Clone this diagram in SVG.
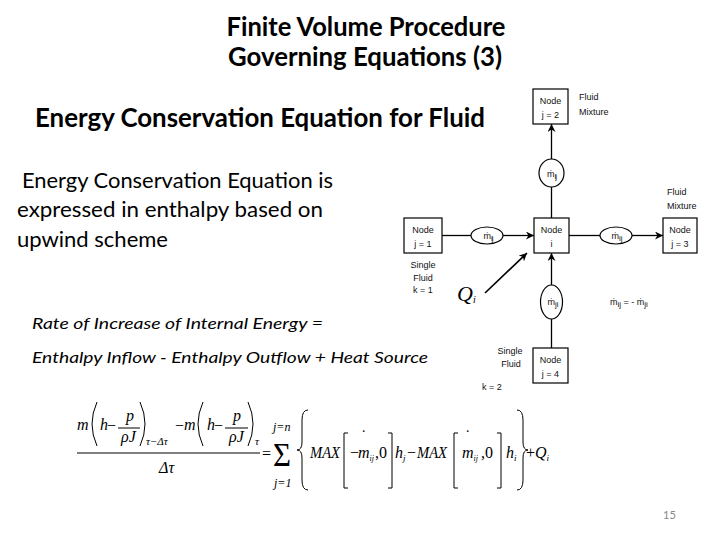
<svg xmlns="http://www.w3.org/2000/svg" width="720" height="540" viewBox="0 0 720 540">
<style>
.t{font-family:Lato,"Liberation Sans",sans-serif;fill:#000}
.b{font-weight:bold}
.it{font-style:italic}
.n{font-family:"Liberation Sans",Arial,sans-serif;font-size:9px;fill:#111;text-anchor:middle}
.s{text-anchor:start}
.box{fill:#fff;stroke:#000;stroke-width:1.2}
.ell{fill:#fff;stroke:#000;stroke-width:1.2}
.ln{stroke:#000;stroke-width:1.3;fill:none}
.m{font-family:"Liberation Serif","Times New Roman",serif;font-style:italic;font-size:16px;fill:#000}
.mu{font-family:"Liberation Serif","Times New Roman",serif;font-size:16px;fill:#000}
.dl{fill:none;stroke:#000;stroke-width:1}
</style>
<defs>
<marker id="ah" viewBox="0 0 10 10" refX="10" refY="5" markerWidth="8" markerHeight="8" markerUnits="userSpaceOnUse" orient="auto">
<path d="M0,0 L10,5 L0,10 L3,5 z" fill="#000"/>
</marker>
</defs>
<rect width="720" height="540" fill="#fff"/>

<g id="title">
<text class="t b" x="366" y="36" font-size="27" text-anchor="middle" textLength="279" lengthAdjust="spacingAndGlyphs">Finite Volume Procedure</text>
<text class="t b" x="365" y="66" font-size="27" text-anchor="middle" textLength="274" lengthAdjust="spacingAndGlyphs">Governing Equations (3)</text>
</g>
<g id="heading">
<text class="t b" x="35" y="127" font-size="27" textLength="450" lengthAdjust="spacingAndGlyphs">Energy Conservation Equation for Fluid</text>
</g>
<g id="body">
<text class="t" x="22" y="188" font-size="21" textLength="311" lengthAdjust="spacingAndGlyphs">Energy Conservation Equation is</text>
<text class="t" x="17" y="217" font-size="21" textLength="306" lengthAdjust="spacingAndGlyphs">expressed in enthalpy based on</text>
<text class="t" x="17" y="247" font-size="21" textLength="151" lengthAdjust="spacingAndGlyphs">upwind scheme</text>
<text class="t it" x="32" y="329" font-size="16" textLength="291" lengthAdjust="spacingAndGlyphs">Rate of Increase of Internal Energy =</text>
<text class="t it" x="32" y="363" font-size="16" textLength="396" lengthAdjust="spacingAndGlyphs">Enthalpy Inflow - Enthalpy Outflow + Heat Source</text>
</g>

<g id="connectors">
<line class="ln" x1="442" y1="235.5" x2="471" y2="235.5"/>
<line class="ln" x1="503" y1="235.5" x2="534" y2="235.5" marker-end="url(#ah)"/>
<line class="ln" x1="569" y1="235.5" x2="600" y2="235.5"/>
<line class="ln" x1="632" y1="235.5" x2="663" y2="235.5" marker-end="url(#ah)"/>
<line class="ln" x1="551.5" y1="218" x2="551.5" y2="187"/>
<line class="ln" x1="551.5" y1="159" x2="551.5" y2="124" marker-end="url(#ah)"/>
<line class="ln" x1="551.5" y1="348" x2="551.5" y2="319"/>
<line class="ln" x1="551.5" y1="285" x2="551.5" y2="253" marker-end="url(#ah)"/>
<line class="ln" x1="485" y1="293" x2="527" y2="253" marker-end="url(#ah)" style="stroke-width:1.7"/>
</g>

<g id="node-j1">
<rect class="box" x="404" y="218" width="38" height="35"/>
<text class="n" x="423" y="233">Node</text>
<text class="n" x="423" y="247">j = 1</text>
<text class="n" x="423" y="268">Single</text>
<text class="n" x="423" y="281">Fluid</text>
<text class="n" x="423" y="293">k = 1</text>
</g>
<g id="node-i">
<rect class="box" x="534" y="218" width="35" height="35"/>
<text class="n" x="551.5" y="233">Node</text>
<text class="n" x="551.5" y="247">i</text>
</g>
<g id="node-j2">
<rect class="box" x="533" y="89" width="35" height="35"/>
<text class="n" x="550.5" y="104">Node</text>
<text class="n" x="550.5" y="118">j = 2</text>
<text class="n s" x="579" y="100">Fluid</text>
<text class="n s" x="579" y="115">Mixture</text>
</g>
<g id="node-j3">
<rect class="box" x="663" y="218" width="34" height="35"/>
<text class="n" x="680" y="233">Node</text>
<text class="n" x="680" y="247">j = 3</text>
<text class="n s" x="667" y="195">Fluid</text>
<text class="n s" x="667" y="209">Mixture</text>
</g>
<g id="node-j4">
<rect class="box" x="533" y="348" width="35" height="35"/>
<text class="n" x="550.5" y="363">Node</text>
<text class="n" x="550.5" y="377">j = 4</text>
<text class="n" x="510" y="354">Single</text>
<text class="n" x="511" y="367">Fluid</text>
<text class="n" x="492" y="390">k = 2</text>
</g>

<g id="flow-top">
<ellipse class="ell" cx="551.5" cy="173" rx="12.5" ry="14"/>
<text class="n" x="551.5" y="177">ṁ<tspan font-size="8" dy="2" letter-spacing="-1">ij</tspan></text>
</g>
<g id="flow-left">
<ellipse class="ell" cx="487" cy="235.5" rx="16" ry="8.5"/>
<text class="n" x="488" y="239">ṁ<tspan font-size="8" dy="2" letter-spacing="-1">ij</tspan></text>
</g>
<g id="flow-right">
<ellipse class="ell" cx="616" cy="235.5" rx="16" ry="8.5"/>
<text class="n" x="617" y="239">ṁ<tspan font-size="8" dy="2">ij</tspan></text>
</g>
<g id="flow-bottom">
<ellipse class="ell" cx="551.5" cy="302" rx="11" ry="17"/>
<text class="n" x="553" y="305">ṁ<tspan font-size="8" dy="2">ji</tspan></text>
</g>
<g id="heat">
<text class="m" x="457" y="301" style="font-size:22px">Q<tspan font-size="10" dy="2">i</tspan></text>
<text class="n s" x="610" y="305">ṁ<tspan font-size="8" dy="2">ij</tspan><tspan dy="-2"> = - ṁ</tspan><tspan font-size="8" dy="2">ji</tspan></text>
</g>

<g id="equation">
<text class="m" x="77" y="430">m</text>
<path class="dl" d="M97,402 Q87,424 97,446"/>
<text class="m" x="100" y="430">h</text>
<text class="mu" x="107" y="431">−</text>
<text class="m" x="126" y="421">p</text>
<line class="dl" x1="118" y1="428" x2="140" y2="428"/>
<text class="m" x="121" y="442">ρJ</text>
<path class="dl" d="M140,402 Q150,424 140,446"/>
<text class="m" x="146" y="445" style="font-size:11px">τ−Δτ</text>
<text class="mu" x="175" y="431">−</text>
<text class="m" x="184" y="430">m</text>
<path class="dl" d="M203,402 Q193,424 203,446"/>
<text class="m" x="207" y="430">h</text>
<text class="mu" x="214" y="431">−</text>
<text class="m" x="233" y="421">p</text>
<line class="dl" x1="225" y1="428" x2="248" y2="428"/>
<text class="m" x="229" y="442">ρJ</text>
<path class="dl" d="M248,402 Q258,424 248,446"/>
<text class="m" x="255" y="445" style="font-size:11px">τ</text>
<line x1="77" y1="453" x2="260" y2="453" stroke="#000" stroke-width="1.2"/>
<text class="m" x="159" y="473">Δτ</text>
<text class="mu" x="262" y="459">=</text>
<text class="mu" x="273" y="466" style="font-size:33px" textLength="18" lengthAdjust="spacingAndGlyphs">Σ</text>
<text class="m" x="273" y="431" style="font-size:12px">j=n</text>
<text class="m" x="274" y="487" style="font-size:12px">j=1</text>
<path class="dl" d="M308,410 Q302,410 302,420 L302,442 Q302,450 297,450 Q302,450 302,458 L302,480 Q302,490 308,490"/>
<text class="m" x="310" y="458" textLength="30" lengthAdjust="spacingAndGlyphs">MAX</text>
<path class="dl" d="M348,433 L344,433 L344,488 L348,488"/>
<text class="mu" x="350" y="458">−</text>
<text class="m" x="358" y="458">m<tspan font-size="8" dy="3">ij</tspan></text>
<text class="mu" x="361" y="441">˙</text>
<text class="mu" x="375" y="458">,0</text>
<path class="dl" d="M388,433 L392,433 L392,488 L388,488"/>
<text class="m" x="395" y="458">h<tspan font-size="9" dy="3">j</tspan></text>
<text class="mu" x="407" y="458">−</text>
<text class="m" x="417" y="458" textLength="30" lengthAdjust="spacingAndGlyphs">MAX</text>
<path class="dl" d="M458,433 L454,433 L454,488 L458,488"/>
<text class="m" x="462" y="458">m<tspan font-size="8" dy="3">ij</tspan></text>
<text class="mu" x="465" y="441">˙</text>
<text class="mu" x="481" y="458">,0</text>
<path class="dl" d="M497,433 L501,433 L501,488 L497,488"/>
<text class="m" x="506" y="458">h<tspan font-size="9" dy="3">i</tspan></text>
<path class="dl" d="M517,410 Q523,410 523,420 L523,442 Q523,450 528,450 Q523,450 523,458 L523,480 Q523,490 517,490"/>
<text class="mu" x="526" y="458">+</text>
<text class="m" x="535" y="458">Q<tspan font-size="9" dy="3">i</tspan></text>
</g>

<g id="page-number">
<text x="663" y="519" font-family="Lato,'Liberation Sans',sans-serif" font-size="11" fill="#888">15</text>
</g>
</svg>
